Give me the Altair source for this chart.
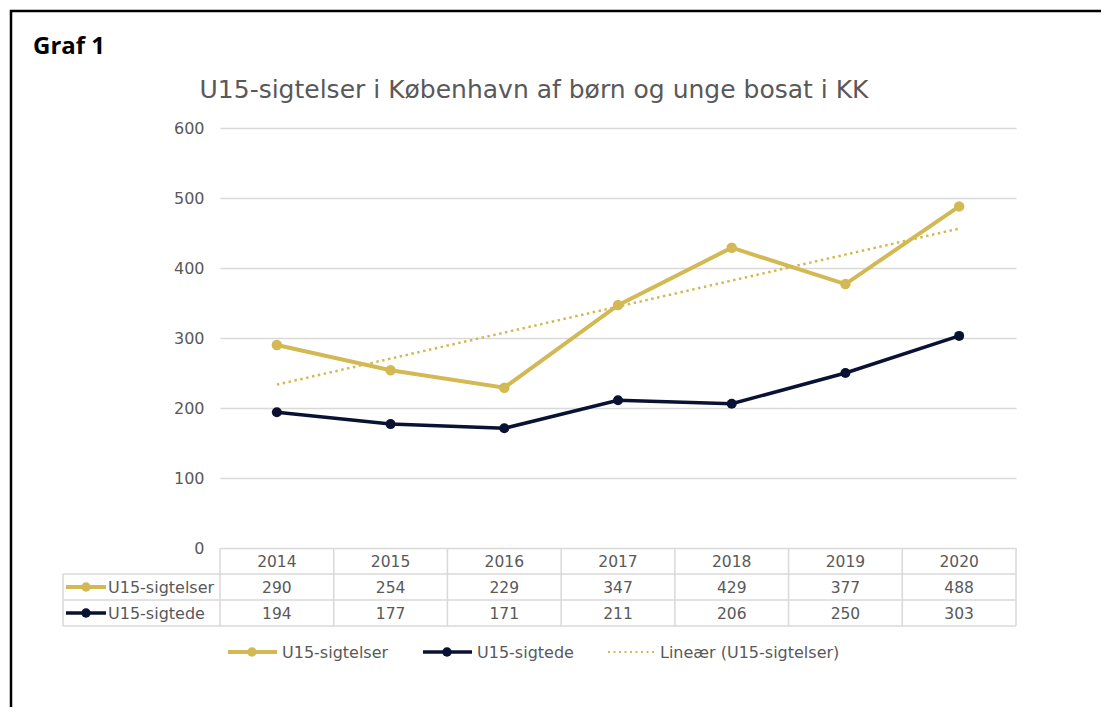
import altair as alt
import pandas as pd

# ---- data ----
years = [2014, 2015, 2016, 2017, 2018, 2019, 2020]
series_names = ["U15-sigtelser", "U15-sigtede"]
sigtelser = [290, 254, 229, 347, 429, 377, 488]
sigtede = [194, 177, 171, 211, 206, 250, 303]
y_ticks = [0, 100, 200, 300, 400, 500, 600]
title_text = "U15-sigtelser i København af børn og unge bosat i KK"
fig_label = "Graf 1"
trend_label = "Lineær (U15-sigtelser)"

# ---- style ----
GOLD = "#D3B954"
NAVY = "#0A1233"
TXT = "#595959"
GRID = "#D9D9D9"
FONT = "DejaVu Sans"
W, H = 796, 420

df = pd.DataFrame({
    "year": years * 2,
    "series": [series_names[0]] * len(years) + [series_names[1]] * len(years),
    "value": sigtelser + sigtede,
})
bounds = pd.DataFrame({"b": [yr - 0.5 for yr in years] + [years[-1] + 0.5]})
one = alt.Data(values=[{}])

xscale = alt.Scale(domain=[years[0] - 0.5, years[-1] + 0.5], nice=False, zero=False)
yscale = alt.Scale(domain=[0, 600], nice=False)
X = alt.X("year:Q", scale=xscale, axis=None)
Y = alt.Y("value:Q", scale=yscale,
          axis=alt.Axis(values=y_ticks, grid=True, gridColor=GRID, gridWidth=1.5,
                        domain=False, ticks=False, labelPadding=16, labelFontSize=16,
                        labelColor=TXT, labelFont=FONT, title=None))

base = alt.Chart(df)
f0 = alt.datum.series == series_names[0]
f1 = alt.datum.series == series_names[1]

layers = []

# table vertical lines
layers.append(alt.Chart(bounds).mark_rule(color=GRID, strokeWidth=1.5).encode(
    x=alt.X("b:Q", scale=xscale, axis=None), y=alt.value(H), y2=alt.value(H + 78)))
# table horizontal lines
for yy in [H + 26, H + 52, H + 78]:
    layers.append(alt.Chart(one).mark_rule(color=GRID, strokeWidth=1.5).encode(
        x=alt.value(-157), x2=alt.value(W), y=alt.value(yy)))
layers.append(alt.Chart(one).mark_rule(color=GRID, strokeWidth=1.5).encode(
    x=alt.value(-157), y=alt.value(H + 26), y2=alt.value(H + 78)))

# lines & points
layers.append(base.transform_filter(f0).mark_line(color=GOLD, strokeWidth=4).encode(x=X, y=Y))
layers.append(base.transform_filter(f0).mark_circle(color=GOLD, size=110, opacity=1).encode(x=X, y=Y))
layers.append(base.transform_filter(f1).mark_line(color=NAVY, strokeWidth=3.5).encode(x=X, y=Y))
layers.append(base.transform_filter(f1).mark_circle(color=NAVY, size=100, opacity=1).encode(x=X, y=Y))
# trend line
layers.append(base.transform_filter(f0).transform_regression(
    "year", "value", method="linear", extent=[years[0], years[-1]]
).mark_line(color=GOLD, strokeWidth=2.5, strokeDash=[2.5, 3.5]).encode(x=X, y=Y))

# table texts
txt = dict(font=FONT, fontSize=15.5, color=TXT, baseline="alphabetic")
lab = dict(font=FONT, fontSize=16, color=TXT, baseline="alphabetic")
layers.append(base.transform_filter(f0).mark_text(**txt).encode(
    x=X, y=alt.value(H + 19), text=alt.Text("year:Q", format="d")))
layers.append(base.transform_filter(f0).mark_text(**txt).encode(
    x=X, y=alt.value(H + 45), text=alt.Text("value:Q", format="d")))
layers.append(base.transform_filter(f1).mark_text(**txt).encode(
    x=X, y=alt.value(H + 71), text=alt.Text("value:Q", format="d")))

# row headers with symbols
for name, col, sw, yy in [(series_names[0], GOLD, 4, H + 39), (series_names[1], NAVY, 3.5, H + 65)]:
    layers.append(alt.Chart(one).mark_rule(color=col, strokeWidth=sw).encode(
        x=alt.value(-154), x2=alt.value(-114), y=alt.value(yy)))
    layers.append(alt.Chart(one).mark_circle(color=col, size=90, opacity=1).encode(
        x=alt.value(-134), y=alt.value(yy)))
    layers.append(alt.Chart(one).mark_text(align="left", **lab).encode(
        x=alt.value(-112), y=alt.value(yy + 6), text=alt.value(name)))

# legend
LY = 524
for name, col, sw, x0 in [(series_names[0], GOLD, 4, 8), (series_names[1], NAVY, 3.5, 203)]:
    layers.append(alt.Chart(one).mark_rule(color=col, strokeWidth=sw).encode(
        x=alt.value(x0), x2=alt.value(x0 + 49), y=alt.value(LY)))
    layers.append(alt.Chart(one).mark_circle(color=col, size=90, opacity=1).encode(
        x=alt.value(x0 + 24), y=alt.value(LY)))
    layers.append(alt.Chart(one).mark_text(align="left", **lab).encode(
        x=alt.value(x0 + 54), y=alt.value(LY + 6), text=alt.value(name)))
layers.append(alt.Chart(one).mark_rule(color=GOLD, strokeWidth=2, strokeDash=[2, 3.5]).encode(
    x=alt.value(388), x2=alt.value(436), y=alt.value(LY)))
layers.append(alt.Chart(one).mark_text(align="left", **lab).encode(
    x=alt.value(440), y=alt.value(LY + 6), text=alt.value(trend_label)))

# title, figure label, frame
layers.append(alt.Chart(one).mark_text(font=FONT, fontSize=25, color=TXT, baseline="alphabetic").encode(
    x=alt.value(314), y=alt.value(-30), text=alt.value(title_text)))
layers.append(alt.Chart(one).mark_text(font="Open Sans", fontSize=24, fontWeight="bold", color="black",
                                       baseline="alphabetic", align="left").encode(
    x=alt.value(-187), y=alt.value(-74), text=alt.value(fig_label)))
layers.append(alt.Chart(one).mark_rect(fill="transparent", stroke="black", strokeWidth=2.5).encode(
    x=alt.value(-209), x2=alt.value(W + 120), y=alt.value(-117), y2=alt.value(H + 300)))

chart = alt.layer(*layers).properties(
    width=W, height=H,
    background="white",
    autosize=alt.AutoSizeParams(type="none"),
    padding={"left": 212, "top": 120, "right": 85, "bottom": 159},
).configure_view(strokeWidth=0)

chart.save("out.html", embed_options={"renderer": "svg", "actions": False})
